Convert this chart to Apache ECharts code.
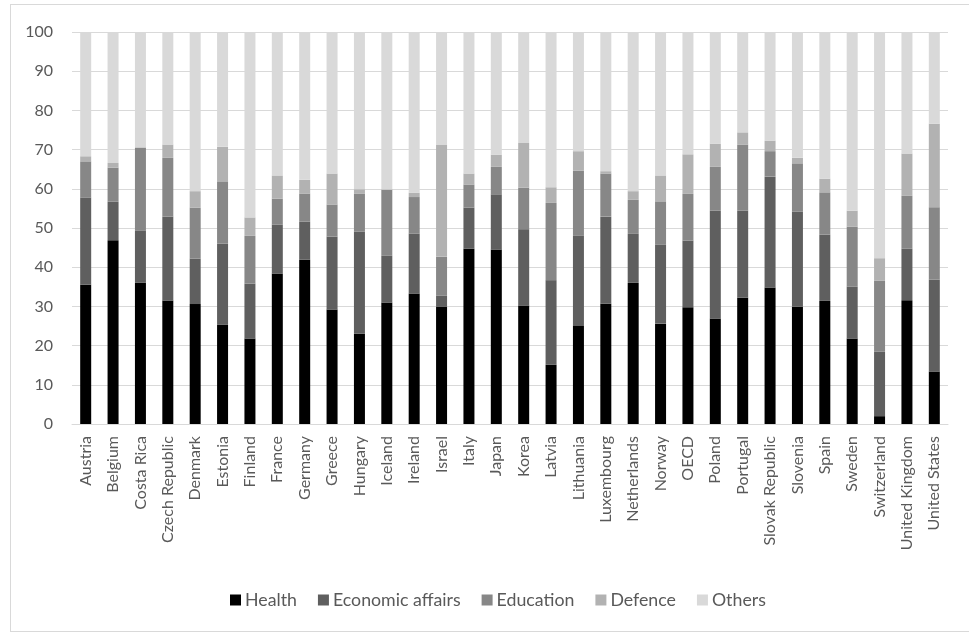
<!DOCTYPE html>
<html><head><meta charset="utf-8">
<script src="https://cdn.jsdelivr.net/npm/echarts@6/dist/echarts.min.js"></script>
<style>
html,body{margin:0;padding:0;background:#fff;overflow:hidden}
#frame{position:absolute;left:10px;top:4px;width:975px;height:628px;border:1px solid #d9d9d9;box-sizing:border-box}
#c{position:absolute;left:0;top:0;width:969px;height:635px}
</style>
</head><body><div id="frame"></div><div id="c"></div>
<script>
const categories = ["Austria","Belgium","Costa Rica","Czech Republic","Denmark","Estonia","Finland","France","Germany","Greece","Hungary","Iceland","Ireland","Israel","Italy","Japan","Korea","Latvia","Lithuania","Luxembourg","Netherlands","Norway","OECD","Poland","Portugal","Slovak Republic","Slovenia","Spain","Sweden","Switzerland","United Kingdom","United States"];
const health =   [35.5,46.9,36.0,31.5,30.6,25.3,21.8,38.4,41.9,29.2,23.0,31.0,33.2,30.0,44.7,44.5,30.2,15.1,25.0,30.7,36.0,25.6,29.8,26.9,32.2,34.8,29.9,31.4,21.8,2.0,31.6,13.4];
const economic = [22.2,9.8,13.4,21.4,11.6,20.7,14.0,12.5,9.7,18.6,26.1,11.9,15.4,2.7,10.5,14.1,19.5,21.6,23.0,22.2,12.5,20.1,17.0,27.5,22.2,28.3,24.3,16.9,13.2,16.5,13.1,23.4];
const education =[9.3,8.7,21.1,15.0,13.0,15.9,12.2,6.6,7.2,8.2,9.6,16.9,9.3,10.0,5.9,7.0,10.6,19.7,16.6,11.0,8.7,11.1,11.9,11.2,16.9,6.5,12.3,10.8,15.3,18.1,13.5,18.5];
const defence =  [1.3,1.2,0.1,3.4,4.2,8.8,4.7,5.9,3.5,7.9,1.2,0.0,1.1,28.5,2.8,3.1,11.4,4.0,5.0,0.6,2.2,6.6,10.1,5.9,3.1,2.7,1.4,3.5,4.1,5.7,10.8,21.3];
const others =   [31.7,33.4,29.4,28.7,40.6,29.3,47.3,36.6,37.7,36.1,40.1,40.2,41.0,28.8,36.1,31.3,28.3,39.6,30.4,35.5,40.6,36.6,31.2,28.5,25.6,27.7,32.1,37.4,45.6,57.7,31.0,23.4];
const yTicks = [0,10,20,30,40,50,60,70,80,90,100];
const seriesNames = ["Health","Economic affairs","Education","Defence","Others"];
const seriesData = [health, economic, education, defence, others];
const colors = ["#000000","#5f5f5f","#878787","#b2b2b2","#d9d9d9"];
const font = "Lato, 'Open Sans', sans-serif";
const chart = echarts.init(document.getElementById('c'));
chart.setOption({
  animation:false,
  color: colors,
  grid:{left:72,right:21,top:32,bottom:211,containLabel:false},
  legend:{top:586,left:225,itemWidth:11,itemHeight:11,itemGap:21,icon:'rect',
    textStyle:{color:'#595959',fontSize:17.75,fontFamily:font,padding:[0,0,0,-1]},
    data:seriesNames},
  xAxis:{type:'category',data:categories,
    axisLine:{lineStyle:{color:'#d9d9d9'}},axisTick:{show:false},
    axisLabel:{rotate:90,interval:0,color:'#595959',fontSize:16,fontFamily:font,margin:12}},
  yAxis:{type:'value',min:yTicks[0],max:yTicks[yTicks.length-1],interval:10,
    axisLine:{show:false},axisTick:{show:false},
    splitLine:{lineStyle:{color:'#d9d9d9'}},
    axisLabel:{color:'#595959',fontSize:16,fontFamily:font,margin:19}},
  series: seriesNames.map((n,i)=>({name:n,type:'bar',stack:'all',barWidth:11,data:seriesData[i]}))
});
</script></body></html>
